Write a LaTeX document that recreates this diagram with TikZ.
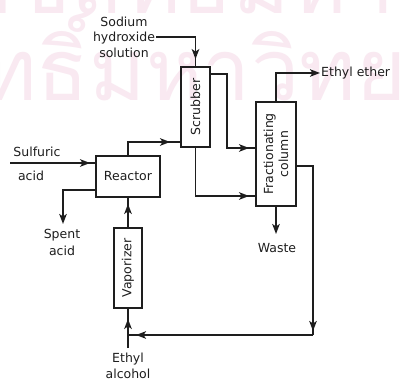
\documentclass[tikz,border=0pt]{standalone}
\usepackage{fontspec}
\setmainfont{DejaVu Sans}
\newfontfamily\thaifont[Script=Thai]{Loma}
\usetikzlibrary{arrows.meta,decorations.markings}
\definecolor{ink}{RGB}{30,30,30}
\definecolor{wmpink}{RGB}{249,233,241}
\tikzset{
  box/.style={draw=ink, line width=1.8pt, inner sep=0pt},
  lab/.style={text=ink, inner sep=1pt, font=\fontsize{12.5}{15}\selectfont},
  rlab/.style={lab, rotate=90},
  wm/.style={text=wmpink, inner sep=0pt, font=\thaifont\fontsize{86}{86}\selectfont},
  conn/.style={draw=ink, line width=1.8pt},
  tip/.tip={Stealth[length=10pt,width=7.5pt,inset=2.5pt]},
  arr/.style={conn, postaction={decorate, decoration={markings,
      mark=at position -#1 with {\arrow{tip}}}}},
  arr/.default=7pt,
  endarr/.style={conn, -tip}
}
\begin{document}
\begin{tikzpicture}[x=1pt,y=-1pt]
\useasboundingbox (0,0) rectangle (401,379);
\clip (0,0) rectangle (401,379);
\fill[white] (0,0) rectangle (401,379);
% watermark
\node[wm, anchor=base west] (wm1) at (-40,14) {ลิขสิทธิ์มหาวิทยาลัยเชียงใหม่};
\node[wm, anchor=base west] (wm2) at (-20,101) {ทธิ์มหาวิทยาลัยเชียงใหม่};
% units
\node[box, lab, minimum width=64pt, minimum height=41pt] (reactor) at (128,176.5) {Reactor};
\node[box, minimum width=29pt, minimum height=80pt,
  label={[rlab]center:Scrubber}] (scrubber) at (195.5,107) {};
\node[box, minimum width=40pt, minimum height=104pt,
  label={[rlab, align=center]center:Fractionating\\column}] (column) at (276,154) {};
\node[box, minimum width=28pt, minimum height=80pt,
  label={[rlab]center:Vaporizer}] (vaporizer) at (128,268) {};
% stream labels
\node[lab, align=center, font=\fontsize{12.5}{15.5}\selectfont] (naoh) at (124,37) {Sodium\\hydroxide\\solution};
\node[lab] (sulf) at (37,152) {Sulfuric};
\node[lab] (sulf2) at (31,176) {acid};
\node[lab, align=center, font=\fontsize{12.5}{17}\selectfont] (spent) at (62,242) {Spent\\acid};
\node[lab] (waste) at (277,248) {Waste};
\node[lab, anchor=west] (ether) at (320,73) {Ethyl ether};
\node[lab, align=center, font=\fontsize{12.5}{16}\selectfont] (alc) at (128,366) {Ethyl\\alcohol};
% free ends
\coordinate (sIn) at (10,163);
\coordinate (spOut) at (63,224);
\coordinate (wOut) at (276,234);
\coordinate (aIn) at (128,348);
\coordinate (rc) at (313,335);
\coordinate (rj) at (128,335);
% connectors
\draw[arr=5pt] (sIn) -- (reactor.west |- sIn);
\draw[endarr] ([yshift=-13.5pt]reactor.west) -| (spOut);
\draw[arr=6pt] (vaporizer.north) -- (reactor.south);
\draw[arr=10pt] (reactor.north) |- ([yshift=-35pt]scrubber.west);
\draw[arr=7pt] (naoh.east) -| (scrubber.north);
\draw[arr=6pt] ([yshift=33pt]scrubber.east) -- ++(16,0) |- ([yshift=6pt]column.west);
\draw[arr=6pt] (scrubber.south) |- ([yshift=-42pt]column.west);
\draw[endarr] (column.north) |- (ether.west);
\draw[endarr] (column.south) -- (wOut);
\draw[arr=4pt] ([yshift=-12pt]column.east) -| (rc);
\draw[arr=8pt] (rc) -- (rj);
\draw[arr=10pt] (aIn) -- (vaporizer.south);
\end{tikzpicture}
\end{document}
